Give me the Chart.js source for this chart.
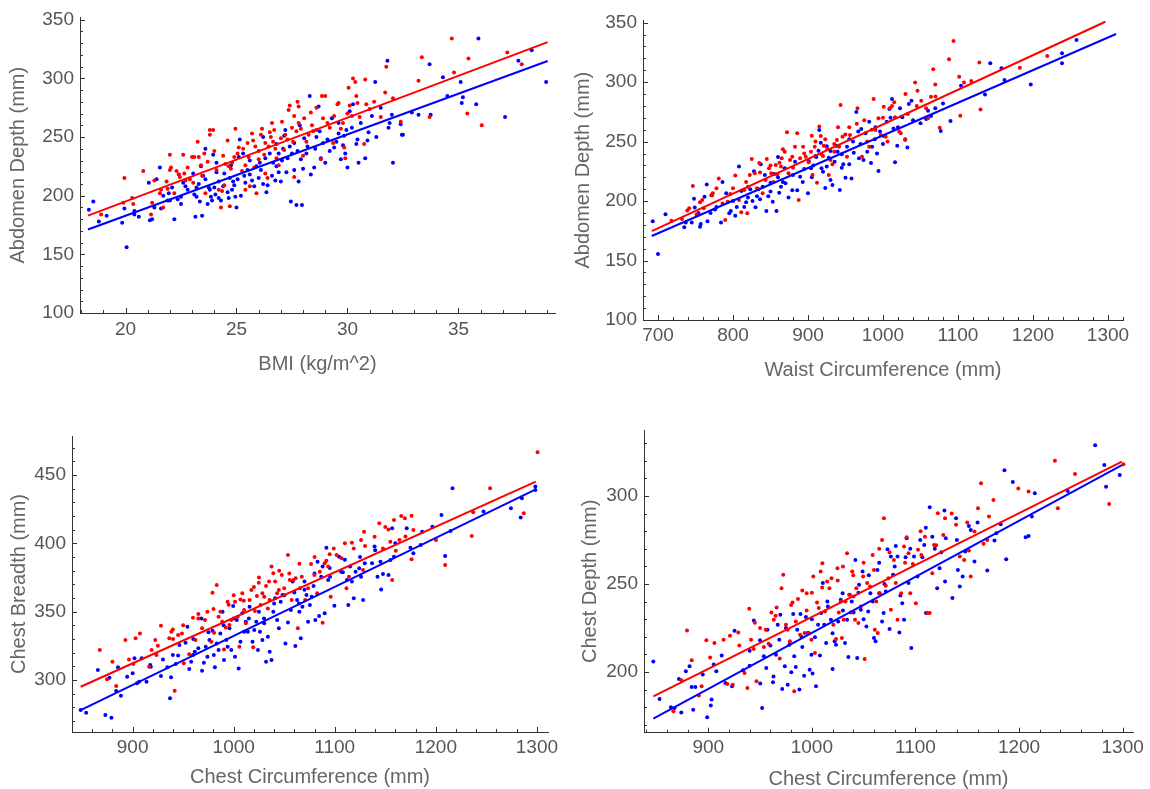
<!DOCTYPE html>
<html>
<head>
<meta charset="utf-8">
<script src="https://cdn.jsdelivr.net/npm/chart.js@4.4.1/dist/chart.umd.min.js"></script>
<style>
  html, body { margin: 0; background: #fff; }
  body { width: 1150px; height: 789px; position: relative; overflow: hidden; }
  canvas { position: absolute; }
</style>
</head>
<body>
<canvas id="p1"></canvas>
<canvas id="p2"></canvas>
<canvas id="p3"></canvas>
<canvas id="p4"></canvas>
<script>
// ---- panel 1: BMI vs abdomen depth ----
const bmiTicks = [20, 25, 30, 35];
const abdTicks = [100, 150, 200, 250, 300, 350];
const blueBmi = [
  [18.35,188],[18.55,195],[18.8,178],[19.15,183],[19.85,177],[19.95,189],[20.05,156],[20.4,187],[20.4,184],[20.6,182],
  [21.05,211],[21.1,179],[21.2,180],[21.3,190],[21.4,214],[21.55,224],[21.6,189],[21.9,196],[21.95,202],[22.1,207],
  [22.2,180],[22.35,197],[22.4,218],[22.5,193],[22.5,199],[22.6,211],[22.7,208],[23.05,219],[23.1,201],[23.15,182],
  [23.2,199],[23.35,195],[23.4,225],[23.45,183],[23.5,217],[23.6,214],[23.6,240],[23.7,193],[23.75,207],[23.8,205],
  [23.85,199],[23.9,196],[23.95,235],[24.0,207],[24.05,201],[24.1,220],[24.2,198],[24.3,196],[24.4,208],[24.45,219],
  [24.6,203],[24.65,198],[24.7,215],[24.75,226],[24.85,212],[24.9,209],[24.95,199],[25.0,190],[25.05,214],[25.1,233],
  [25.15,248],[25.3,236],[25.35,217],[25.5,222],[25.6,230],[25.7,213],[25.8,208],[25.9,225],[26.0,215],[26.05,228],
  [26.1,222],[26.2,250],[26.3,232],[26.35,203],[26.4,209],[26.5,236],[26.6,217],[26.65,228],[26.75,213],[26.8,244],
  [26.9,236],[27.0,212],[27.05,230],[27.15,251],[27.2,256],[27.25,220],[27.3,232],[27.4,242],[27.45,195],[27.5,236],
  [27.6,222],[27.7,192],[27.75,238],[27.8,212],[27.85,260],[27.9,231],[27.95,192],[28.0,223],[28.05,249],[28.15,236],
  [28.3,285],[28.35,218],[28.5,224],[28.55,240],[28.7,276],[28.75,255],[28.8,232],[29.0,228],[29.1,248],[29.3,266],
  [29.4,241],[29.5,246],[29.6,253],[29.7,231],[29.8,243],[29.85,251],[29.95,256],[30.0,224],[30.1,272],[30.25,278],
  [30.4,244],[30.45,248],[30.5,228],[30.8,232],[30.9,247],[30.95,254],[31.1,268],[31.25,297],[31.5,275],[31.8,315],
  [31.85,258],[31.9,262],[32.0,269],[32.05,228],[32.4,261],[32.45,252],[32.5,252],[32.9,271],[33.2,269],[33.7,312],
  [33.75,269],[34.3,301],[34.5,285],[35.1,297],[35.15,279],[35.2,284],[35.8,278],[35.9,334],[37.1,267],[37.7,315],
  [38.3,324],[38.95,297],
  [22.8,205],[23.3,210],[24.2,212],[24.8,205],[25.2,200],[25.6,218],[26.2,210],[26.8,225],[27.1,240],[27.6,245],
  [28.2,242],[28.6,250],[29.2,238],[29.6,262],[30.2,258],[30.6,262],[31.3,250],[24.1,228],[23.2,207],[22.0,196],
  [21.7,200],[26.9,220],[28.9,245],[29.9,236],[25.4,211]
];
const redBmi = [
  [18.9,184],[19.9,194],[19.95,215],[20.35,193],[20.3,198],[20.8,221],[21.15,184],[21.2,194],[21.3,213],[21.55,202],
  [21.6,205],[21.7,190],[21.85,212],[21.9,206],[22.0,222],[22.0,235],[22.05,224],[22.2,202],[22.4,218],[22.45,216],
  [22.6,235],[22.65,219],[22.7,213],[22.9,214],[23.0,233],[23.05,211],[23.1,233],[23.25,246],[23.3,233],[23.45,217],
  [23.55,236],[23.6,202],[23.8,252],[23.8,256],[23.95,256],[24.1,222],[24.2,205],[24.3,190],[24.35,204],[24.45,209],
  [24.5,227],[24.6,247],[24.7,191],[24.65,225],[24.75,223],[24.8,228],[24.95,257],[25.05,236],[25.1,241],[25.25,221],
  [25.3,240],[25.4,226],[25.4,205],[25.55,233],[25.6,208],[25.7,253],[25.75,247],[25.85,242],[25.9,202],[26.0,231],
  [26.1,252],[26.15,257],[26.25,235],[26.3,219],[26.4,215],[26.45,242],[26.5,254],[26.55,250],[26.6,262],[26.65,246],
  [26.75,240],[26.8,232],[26.9,226],[27.0,249],[27.05,263],[27.15,239],[27.3,248],[27.35,273],[27.4,277],[27.5,258],
  [27.55,246],[27.6,216],[27.7,255],[27.75,280],[27.8,276],[27.9,257],[28.0,234],[28.05,266],[28.15,246],[28.25,252],
  [28.35,271],[28.45,255],[28.6,256],[28.8,231],[28.85,285],[29.0,285],[29.1,262],[29.2,258],[29.35,245],[29.55,278],
  [29.6,279],[29.7,257],[29.85,241],[29.9,232],[30.05,292],[30.1,277],[30.2,268],[30.25,300],[30.35,297],[30.45,279],
  [30.55,267],[30.75,244],[30.8,299],[30.85,278],[31.0,274],[31.5,267],[31.7,288],[31.75,310],[32.05,283],[32.4,263],
  [33.2,298],[33.35,318],[33.7,267],[34.7,334],[34.8,305],[35.4,270],[35.45,317],[36.05,260],[37.2,322],[37.85,312],
  [22.3,221],[23.4,226],[24.0,238],[24.9,233],[25.5,245],[26.0,238],[26.7,256],[27.2,252],[27.8,262],[28.4,260],
  [28.9,266],[29.4,268],[30.0,270],[30.4,285],[31.2,280],[25.8,224],[26.3,245],[27.6,268],[24.4,234],[23.7,229],
  [22.8,224],[28.6,275],[29.8,262]
];
const redBmiFit = [[18.31,183.0],[39.02,330.9]];
const blueBmiFit = [[18.31,171.2],[39.02,314.8]];

// ---- panel 2: waist circumference vs abdomen depth ----
const waistTicks = [700, 800, 900, 1000, 1100, 1200, 1300];
const blueWaist = [
  [693,183],[700,155.5],[710,189],[735,178],[737,182],[745,182],[748,202],[749,194.5],[754,190],[756,178.5],
  [757,180.7],[762,203.7],[765,214],[766,183],[770,190],[772,205],[776,193],[778,195],[784,182],[786,216],
  [791,206.5],[795,189.7],[797,191.6],[800,200],[803,187.7],[805,195],[808,229],[811,208.5],[815,195],[817.5,199],
  [820,203],[823,210],[826,200],[828,225],[830,194.7],[832,204],[834,210],[836,201.5],[837,231],[839.5,212],
  [842.5,222],[844.5,191.6],[847,204],[850,215.5],[853,199.5],[855,222.8],[858,191.6],[860,237],[861.6,207],[864,212],
  [866.5,216],[869,227.5],[874,203],[879,209],[882.7,233],[885.6,209],[889.5,220.5],[893,216],[900,206.5],[901,233.7],
  [904,227.5],[907,230],[911,237],[914,242.4],[915,259.8],[917,249],[918,227.5],[920,224.7],[923,211],[925,229],
  [927.7,236.5],[930,217.7],[932.6,213.5],[935.5,233],[937.5,246.6],[939.5,241.5],[942.4,209.3],[945,239.3],[947,231],[950,219.7],
  [952,245.7],[955,231],[958,219],[961,240.7],[964.5,275],[967,258.4],[968,236],[971,260.6],[974,234.5],[976.7,257],
  [979,241.5],[981.6,266.8],[984,232],[985.5,245.7],[989,252],[992,240],[994,225.3],[996,258.4],[1001,254.7],[1005,266.8],
  [1008.5,277.4],[1012,285.8],[1014,261],[1016,232.6],[1019,246.6],[1022.7,278],[1025.7,270.4],[1029.6,252],[1032.5,245],[1034.5,281.6],
  [1038,284.4],[1050,265.4],[1057.5,269],[1064,271.5],[1069.7,278],[1077,259],[1090,267.3],[1104,297],[1136,289.7],[1143,315.8],
  [1158,311.6],[1162,301.8],[1197,298],[1238.7,324.2],[1238.7,315.8],[1258,335.4],
  [880,222],[895,227],[905,220],[930,242],[945,228],[960,250],[970,248],[990,262],[1000,248],[1010,270],
  [1020,262],[1040,268],[1060,276],[1080,282],[850,208],[860,220],[870,215],[910,238],[925,246],[955,252]
];
const redWaist = [
  [718,183.5],[732,185],[739,192],[741.6,194],[746.5,212.7],[751.4,188.8],[756,199],[759,201],[761,194],[771,205],
  [773,206.5],[778,210.7],[781,219],[786,198],[789.6,184],[793,199.5],[796.5,206],[800,210.7],[803,221.4],[808,201],
  [811,190.5],[815,209.3],[817.5,216],[819,189.7],[822.4,222],[825,235.4],[829,223.3],[832,210.7],[836,224],[839.5,206.5],
  [843.5,217.7],[845,235.4],[848,227.5],[851,223.3],[854,216],[857,230.3],[859,222.5],[862,232.3],[864,229],[866.5,243.5],
  [869,241.5],[872,257.8],[874,223.3],[876,234.5],[879,237.3],[882.7,245.7],[885.6,257],[887.6,201],[889.5,236],[893.5,245.7],
  [897,237.3],[900.8,232.6],[904,241.5],[906,222],[909,245.7],[912,215.5],[915,262.6],[917,254.7],[918,239.3],[921,246.6],
  [923,252],[925.8,243.8],[927.7,222],[930,234.5],[932.6,231],[935,241.5],[938.5,251.3],[941.4,245.7],[943.4,280.8],[946,254],
  [949.8,256],[952,237.3],[956,255.5],[966,278],[972,237.3],[979,250],[981.6,245.7],[987.5,285.8],[990,259.8],[994,269.6],
  [997,255.5],[1001,279.4],[1003.6,254],[1006,250],[1009,278],[1012,280],[1016,270.4],[1021.7,258.4],[1023.7,257],[1029.6,251.3],
  [1033,273.2],[1042.8,299.8],[1046,292.8],[1051,284.4],[1057.5,278],[1060,269.6],[1064,287.8],[1067,310.8],[1069.7,298],[1075.6,261.7],
  [1088,319.2],[1094,334.6],[1101.6,304.6],[1103,271.8],[1108,299.8],[1117.7,301],[1128.5,316.6],[1130,277],[1182.4,312.2],[1219,322],
  [850,230],[865,236],[880,228],[895,240],[910,250],[920,238],[935,248],[955,262],[965,265],[975,268],
  [985,260],[1000,270],[1015,283],[1030,290],[1045,280],[1070,288],[820,212],[835,232],[905,255],[940,262]
];
const redWaistFit = [[691.7,174.8],[1296.5,350.8]];
const blueWaistFit = [[691.7,170.6],[1310.7,340.5]];

// ---- panel 3: chest circumference vs chest breadth ----
const chestTicks = [900, 1000, 1100, 1200, 1300];
const breadthTicks = [300, 350, 400, 450];
const blueBreadth = [
  [848.6,278],[854,276],[865.6,307.3],[873,274.4],[877,301.7],[879,272.4],[883.7,292],[885.5,309.3],[888.4,288.5],[894.6,302.4],
  [900,305],[901.8,315.9],[904.3,297.6],[906.5,298.8],[909,315.9],[913.7,298.8],[917.4,311],[918,309.8],[928,302.9],[934.4,309.3],
  [937,286.6],[938,302],[939.8,318.3],[942.7,311.7],[946.3,325.6],[952.4,327.3],[954.2,339],[956,308],[957.9,313.4],[959.7,318.3],
  [961.5,320.7],[965,323.2],[968,345.1],[968.7,306.8],[970.5,312.7],[972.3,324.4],[974,317],[976,329.3],[979,336.1],[980.3,318.3],
  [981.4,309.3],[983.2,326.8],[985,321.9],[986.8,334.1],[989,350],[990.4,314.6],[992.6,329.3],[994,324.4],[995.8,337.8],[997.6,321.9],
  [999.5,354.1],[1001.3,317],[1003,343.9],[1004.9,308.5],[1006.7,328],[1008.5,348.8],[1010.3,335.4],[1012,342.7],[1014,335.4],[1015.7,353.7],
  [1018.6,328],[1020.4,336.6],[1022.3,342.7],[1024,321.9],[1026,335.4],[1028.4,329.3],[1030.2,341.5],[1032,313.4],[1033.8,331.7],[1035.6,320.7],
  [1037.4,314.6],[1039.2,350],[1041,359.8],[1043,343.9],[1044.7,337.8],[1046.5,357.3],[1048.3,362.2],[1051.2,326.8],[1053.7,342],[1056.6,351.2],
  [1058.4,372],[1061,324.9],[1062.7,358.5],[1064.6,356],[1066.4,330.5],[1068,353.7],[1070,372],[1072,362.2],[1073.6,342.7],[1075.4,354.9],
  [1077.2,361],[1079,368.8],[1080.8,343.9],[1083,386.6],[1084.5,346.8],[1086.6,375.6],[1088,383],[1090,348.8],[1091.7,396.8],[1093.5,373.2],
  [1095.3,375.6],[1099.6,354.4],[1104.3,390.2],[1106.2,379.3],[1108,378.8],[1112,373.2],[1113.4,354.9],[1115.2,383],[1117,372],[1118.8,359.8],
  [1120.6,379.3],[1124.2,381.7],[1126,375.6],[1128,358.5],[1129.7,385.4],[1136.9,385.4],[1139.4,397.6],[1142.3,375.6],[1145.2,386.6],[1145.9,366.3],
  [1147.7,377.6],[1153.2,376.8],[1155,387.8],[1156.8,411],[1158.6,390.2],[1171.2,411],[1174.9,396.8],[1177.8,392.7],[1185,398.8],[1186.5,408.5],
  [1196.6,412.2],[1205.6,420.7],[1209.2,390.7],[1216.5,440.2],[1214.6,409],[1247.2,423.2],[1274.3,425.6],[1284,418.8],[1285.2,432.9],[1298.5,441.5],
  [1298.5,439],
  [960,330],[975,335],[990,340],[1000,345],[1015,345],[1025,350],[1040,356],[1050,362],[1060,364],[1070,366],
  [1080,378],[1095,382],[1110,388],[1125,390],[1140,395],[1160,400],[930,315],[945,318],[1030,345],[1065,350]
];
const redBreadth = [
  [867.5,322],[874.7,300.5],[880,313.4],[883.7,295.6],[892.8,329.3],[896.4,315.1],[900.7,311.7],[902.9,330.5],[907.2,334.1],[916.3,309.8],
  [918.8,322],[922.4,329.3],[923.5,318.3],[928,339.8],[936.2,330.5],[938.3,335.4],[939.8,337],[941.6,292.2],[945,332.9],[948.8,334.1],
  [950.6,312.2],[956,318.8],[959.7,345.6],[962.2,329.3],[965,348.3],[968.7,337.8],[971.6,343.9],[974,350],[977.8,328],[979,363.9],
  [980.6,334.6],[983.2,369.5],[985,346.3],[986.8,350],[988.6,342.7],[990.4,322.4],[992.2,338.5],[994,357.3],[995.8,340.2],[997.6,343.9],
  [1001.3,357.3],[1004,346.3],[1005.6,324.4],[1006.7,359],[1008.5,363.4],[1010.3,351.2],[1012,341.5],[1015.7,358.5],[1017.5,365.9],[1019.3,323.9],
  [1021,350.5],[1023,361.5],[1024.8,371.2],[1026.6,354.9],[1028.4,363.4],[1030.2,361],[1032,368.8],[1033.8,352.4],[1035.6,358.5],[1037.4,383],
  [1039.2,378.1],[1041,372],[1043,363.4],[1044.7,365.9],[1047.6,376.8],[1050,367.1],[1053.7,391.5],[1055.5,373.2],[1057.3,358.5],[1059.1,373.2],
  [1061.3,374.4],[1063.5,337.8],[1065.6,367.1],[1067.4,375.6],[1070.7,358.5],[1073.6,367.1],[1076.5,384.9],[1079.8,376.8],[1082.6,363.4],[1085.2,379.3],
  [1088,341.9],[1090,385.4],[1091.7,387.3],[1093.5,383],[1096,361],[1099,396.3],[1101.8,391.5],[1106.9,389],[1111.6,367.1],[1114,375.6],
  [1117,400.5],[1118.8,396.3],[1126,402.4],[1128,380.5],[1129,408.5],[1139.4,404.9],[1144,414.6],[1147.7,396.3],[1153.2,410.2],[1155,401.2],
  [1156.8,373.2],[1158.6,417.1],[1160.4,394.6],[1164,402.4],[1165.8,420],[1169.4,418.3],[1176,420.2],[1176,388.3],[1177.8,409.8],[1200.2,402.4],
  [1209.2,384.1],[1237,422.7],[1235.6,405.4],[1253.7,440.2],[1287,422],[1300.7,466.6],
  [950,340],[965,345],[980,352],[995,355],[1010,358],[1020,368],[1035,372],[1045,380],[1055,378],[1065,385],
  [1080,390],[1095,392],[1110,400],[1130,398],[1150,412],[1170,405],[925,325],[940,330],[1000,362],[1025,375]
];
const redBreadthFit = [[848.6,295.1],[1298.9,445.1]];
const blueBreadthFit = [[848.6,278.0],[1298.9,439.5]];

// ---- panel 4: chest circumference vs chest depth ----
const depthTicks = [200, 250, 300];
const blueDepth = [
  [847,205.9],[853,184.7],[864,180],[867.5,179.6],[871.7,196],[874,177],[878.4,200.4],[882,203.2],[884,191.5],[885.5,178.6],
  [887.6,191.5],[894.7,198.5],[899,174.3],[902.5,180.9],[903.2,184.3],[905.3,204.2],[907.8,200.4],[913,209.4],[916.6,193.8],[923,191.9],
  [925.4,223.4],[933.6,201],[940,203.6],[944,229.3],[950.2,193.4],[952,179.6],[953.7,208.9],[956,202.3],[957.2,224],[962.5,194.1],
  [963,197.5],[965.4,209.8],[967.1,226.8],[968.6,218.3],[969.6,232.5],[971.4,190.4],[973.9,203.2],[976.7,192.8],[978.4,215.5],[980.2,199.8],
  [982,232.9],[983,208.9],[984.5,202.8],[985.9,224],[988,190],[989,232.9],[990.8,214.2],[992.6,197.9],[994.3,231.2],[996,222.1],
  [997.9,201.3],[999.6,209.8],[1000.7,199.1],[1003,219.7],[1004,191.9],[1006,226.8],[1007.8,209.4],[1009,233.5],[1010.6,250.5],[1012,226.8],
  [1013.8,216.4],[1015.5,237.2],[1018.4,229.7],[1020,201.7],[1022,217.4],[1023.3,215.5],[1025.4,228.7],[1027.9,241],[1029.7,244.8],[1032,216.4],
  [1034,229.7],[1035.3,208.5],[1036.7,243.9],[1038.5,240.1],[1040.3,233.8],[1042,263.7],[1043.8,208],[1045.6,249.5],[1047.3,235.3],[1049,257.1],
  [1052.7,225.9],[1054.4,234.4],[1056.5,244.8],[1058.7,240.1],[1060,219.3],[1061.5,217.4],[1063.3,258],[1065,244.8],[1067.8,228.7],[1069.3,233.5],
  [1071.4,245.7],[1073,269.8],[1075,224.4],[1076.3,265.6],[1078.4,255.2],[1081,271.6],[1082.7,265.6],[1084.5,222.5],[1085.5,243.5],[1087.3,239.1],
  [1089,229.7],[1090.5,265.2],[1091.5,276],[1093.3,250.5],[1096,213.6],[1098.6,265.6],[1102,254.3],[1104.6,275],[1106.7,265.2],[1108.5,272.2],
  [1110.2,233.5],[1113.8,293.6],[1116.3,276.9],[1118.7,270],[1121,247.6],[1123.3,259],[1128,291.7],[1128.6,251.4],[1129.3,276],[1135.7,242],
  [1139.2,287.3],[1141,258],[1142.8,248.6],[1145.6,254.3],[1148,268.4],[1151.6,283],[1153.4,280.7],[1157,262.8],[1169.3,257.7],[1176.3,274.7],
  [1178,278.8],[1182.3,284],[1185.9,314.7],[1187.6,264.1],[1194,308],[1206.4,276.5],[1209.2,277.3],[1212.4,288.3],[1215.2,301.5],[1247,302.8],
  [1273.5,328.9],[1282.3,317.6],[1284,305.3],[1297.2,311.9],
  [960,215],[975,225],[990,220],[1000,230],[1015,240],[1030,235],[1045,245],[1055,255],[1065,262],[1080,260],
  [1095,270],[1110,282],[1125,268],[1140,275],[1160,285],[940,212],[950,218],[1020,222],[1050,230],[1070,250]
];
const redDepth = [
  [866.4,177.7],[874.2,195.3],[879.5,223.6],[884,206.6],[891,186.6],[893.6,191.9],[898.2,218],[901.8,208.3],[906,216.4],[914.8,218.3],
  [918.4,193.2],[921,220.6],[923.7,192.8],[929,222.5],[935,199.4],[937.8,190.9],[939.6,235.9],[941.3,218.3],[943.8,213],[946.6,194.7],
  [953.7,214.2],[955.5,224],[958.3,216],[961,233.8],[963.3,229.7],[966,236.7],[969,207.6],[970.7,247.6],[972.4,255.2],[975,226.8],
  [976.7,224],[978.8,217.4],[981.3,239.5],[983,189],[984.5,228.7],[986.6,241.4],[988.7,221.2],[990.8,246.3],[993,222.1],[995,244.8],
  [997.2,222.1],[999.6,218.3],[1001.4,254.3],[1003,210.8],[1005,239.5],[1006.7,236.3],[1008.5,257.1],[1010.2,261.8],[1012.7,234.4],[1014.8,251.4],
  [1017,247.6],[1019,253.3],[1020.8,226.8],[1023.3,218.7],[1024.7,259],[1026,233.8],[1027.9,240.1],[1029,219.3],[1030.7,229.7],[1032.5,240.1],
  [1034,267.5],[1036,243.9],[1037.5,233.8],[1039,257.1],[1040.3,242.9],[1041.7,229.7],[1043,247.6],[1044.9,227.8],[1047.3,237.2],[1049.5,254.3],
  [1051,207.4],[1053.4,250.5],[1056.2,248.6],[1058.7,266.5],[1060.8,224],[1062.2,240.1],[1063.6,222.1],[1065.7,244.8],[1067.8,275],[1069.6,287.3],
  [1071.4,249],[1073.9,253.3],[1076.3,235.3],[1079.2,263.7],[1081,250.5],[1082.7,229.7],[1086.2,244.8],[1089,271.3],[1091.5,276.6],[1093.3,267.5],
  [1095,244.8],[1097.5,261.4],[1100.4,239.1],[1102.5,269.4],[1105.7,266.5],[1109.2,276.9],[1111.7,233.5],[1113.8,233.5],[1116.3,256.1],[1118,272.2],
  [1121.6,290.2],[1126.9,277.9],[1128.6,287.3],[1139.2,283.6],[1142.8,265.6],[1147,263.7],[1151.6,269],[1153.4,254.3],[1157,279.8],[1160.4,293],
  [1163.3,307.2],[1165.7,272.8],[1169.3,275],[1171,288.3],[1175.3,297.7],[1199.3,304.3],[1209.2,302.5],[1234.6,320],[1237.5,293],[1254,312.5],
  [1287,295.5],[1300.7,318],
  [950,225],[965,232],[980,238],[995,235],[1010,248],[1025,252],[1040,255],[1050,262],[1060,258],[1075,268],
  [1090,262],[1105,280],[1120,272],[1135,290],[1150,285],[930,215],[945,228],[1000,245],[1030,260],[1065,270]
];
const redDepthFit = [[847,186.2],[1299.3,319.5]];
const blueDepthFit = [[847,173.5],[1299.3,317.6]];

const RED = "#ff0000";
const BLUE = "#0000ff";
const AXIS = "#333333";
const FONT = "'Liberation Sans', Arial, sans-serif";

const pts = (arr) => arr.map((p) => ({ x: p[0], y: p[1] }));

// inward tick marks, Mathematica style
const tickMarks = {
  id: "tickMarks",
  afterDraw(chart) {
    const { ctx, chartArea: a, scales } = chart;
    const o = chart.options.plugins.tickMarks;
    ctx.save();
    ctx.strokeStyle = AXIS;
    ctx.lineWidth = 1;
    ctx.beginPath();
    const x = scales.x, y = scales.y;
    for (let v = Math.ceil(x.min / o.xMinor) * o.xMinor; v <= x.max; v += o.xMinor) {
      const len = o.xMajor.includes(Math.round(v * 1000) / 1000) ? 5 : 3;
      const px = Math.round(x.getPixelForValue(v)) + 0.5;
      ctx.moveTo(px, a.bottom);
      ctx.lineTo(px, a.bottom - len);
    }
    for (let v = Math.ceil(y.min / o.yMinor) * o.yMinor; v <= y.max; v += o.yMinor) {
      const len = o.yMajor.includes(Math.round(v * 1000) / 1000) ? 5 : 3;
      const py = Math.round(y.getPixelForValue(v)) + 0.5;
      ctx.moveTo(a.left, py);
      ctx.lineTo(a.left + len, py);
    }
    ctx.stroke();
    ctx.restore();
  },
};

function makePanel(id, box, area, c) {
  const cv = document.getElementById(id);
  cv.width = box.w;
  cv.height = box.h;
  cv.style.left = box.x + "px";
  cv.style.top = box.y + "px";
  const yTop = area.top - box.y;
  const ds = (data, color, order) => ({ data: pts(data), backgroundColor: color, pointRadius: 2, borderWidth: 0, order: order });
  const fit = (data, color) => ({ data: pts(data), showLine: true, borderColor: color, borderWidth: 2, pointRadius: 0, order: 0 });
  new Chart(cv, {
    type: "scatter",
    data: {
      datasets: [ds(c.blue, BLUE, 2), ds(c.red, RED, 1), fit(c.blueFit, BLUE), fit(c.redFit, RED)],
    },
    options: {
      responsive: false,
      animation: false,
      devicePixelRatio: 1,
      layout: { padding: { left: 0, top: yTop, right: box.x + box.w - area.right, bottom: 0 } },
      plugins: {
        legend: { display: false },
        tooltip: { enabled: false },
        tickMarks: { xMinor: c.xMinor, yMinor: c.yMinor, xMajor: c.xTicks, yMajor: c.yTicks },
      },
      scales: {
        x: {
          type: "linear", min: c.xMin, max: c.xMax,
          afterFit: (s) => { s.height = box.y + box.h - area.bottom; },
          afterBuildTicks: (s) => { s.ticks = c.xTicks.map((v) => ({ value: v })); },
          grid: { display: false, drawTicks: false },
          border: { color: AXIS, width: 1 },
          ticks: { color: "#555", font: { family: FONT, size: 19 }, padding: c.xPad, autoSkip: false, maxRotation: 0, callback: (v) => String(v) },
          title: { display: true, text: c.xTitle, color: "#666", font: { family: FONT, size: 20, lineHeight: 1 }, padding: { top: 0, bottom: c.xTitlePad } },
        },
        y: {
          type: "linear", min: c.yMin, max: c.yMax,
          afterFit: (s) => { s.width = area.left - box.x; },
          afterBuildTicks: (s) => { s.ticks = c.yTicks.map((v) => ({ value: v })); },
          grid: { display: false, drawTicks: false },
          border: { color: AXIS, width: 1 },
          ticks: { color: "#555", font: { family: FONT, size: 19 }, padding: 6, autoSkip: false, callback: (v) => String(v) },
          title: { display: true, text: c.yTitle, color: "#666", font: { family: FONT, size: 20, lineHeight: 1 }, padding: { top: c.yTitlePad, bottom: 0 } },
        },
      },
    },
    plugins: [tickMarks],
  });
}

makePanel("p1", { x: 0, y: 0, w: 575, h: 390 }, { left: 80, right: 555, top: 15.1, bottom: 313 }, {
  blue: blueBmi, red: redBmi, blueFit: blueBmiFit, redFit: redBmiFit,
  xMin: 17.95, xMax: 39.35, yMin: 100, yMax: 352, xTicks: bmiTicks, yTicks: abdTicks, xMinor: 1, yMinor: 10,
  xTitle: "BMI (kg/m^2)", yTitle: "Abdomen Depth (mm)", xPad: 5, xTitlePad: 16, yTitlePad: 8,
});
makePanel("p2", { x: 565, y: 0, w: 585, h: 390 }, { left: 643, right: 1123, top: 20.3, bottom: 320 }, {
  blue: blueWaist, red: redWaist, blueFit: blueWaistFit, redFit: redWaistFit,
  xMin: 680, xMax: 1320, yMin: 100, yMax: 352, xTicks: waistTicks, yTicks: abdTicks, xMinor: 20, yMinor: 10,
  xTitle: "Waist Circumference (mm)", yTitle: "Abdomen Depth (mm)", xPad: 4, xTitlePad: 10, yTitlePad: 8,
});
makePanel("p3", { x: 0, y: 400, w: 575, h: 389 }, { left: 72, right: 548, top: 436, bottom: 732 }, {
  blue: blueBreadth, red: redBreadth, blueFit: blueBreadthFit, redFit: redBreadthFit,
  xMin: 840, xMax: 1311, yMin: 262, yMax: 478.5, xTicks: chestTicks, yTicks: breadthTicks, xMinor: 20, yMinor: 10,
  xTitle: "Chest Circumference (mm)", yTitle: "Chest Breadth (mm)", xPad: 4, xTitlePad: 2, yTitlePad: 9,
});
makePanel("p4", { x: 565, y: 400, w: 585, h: 389 }, { left: 644, right: 1133, top: 430, bottom: 732.7 }, {
  blue: blueDepth, red: redDepth, blueFit: blueDepthFit, redFit: redDepthFit,
  xMin: 838, xMax: 1310, yMin: 165.5, yMax: 337.5, xTicks: chestTicks, yTicks: depthTicks, xMinor: 20, yMinor: 10,
  xTitle: "Chest Circumference (mm)", yTitle: "Chest Depth (mm)", xPad: 4, xTitlePad: 0, yTitlePad: 15,
});
</script>
</body>
</html>
